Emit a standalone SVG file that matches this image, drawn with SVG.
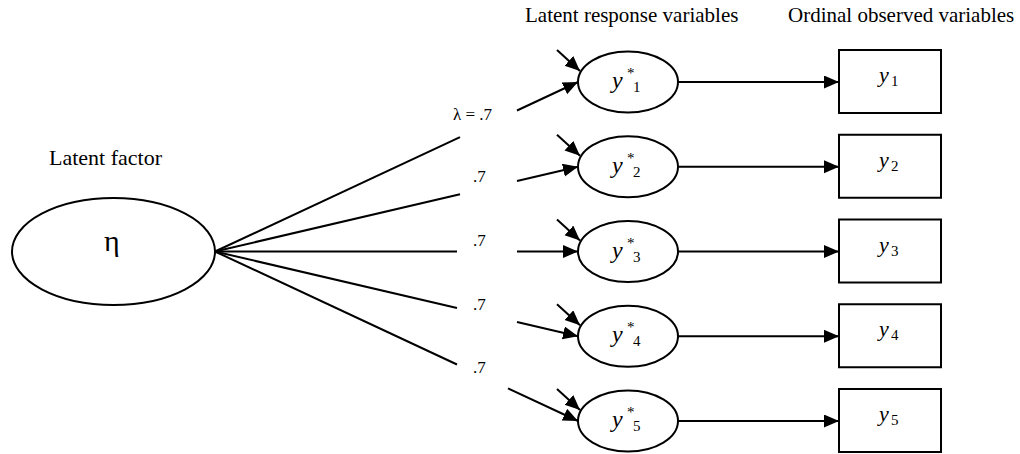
<svg xmlns="http://www.w3.org/2000/svg" width="1020" height="454" viewBox="0 0 1020 454" font-family="'Liberation Serif', 'Times New Roman', serif">
<style>
text{font-family:"Liberation Serif","Times New Roman",serif;fill:#000}
.h{font-size:21px}
.lbl{font-size:17px}
.sh{fill:#fff;stroke:#000;stroke-width:2}
.c{stroke:#000;stroke-width:2;fill:none}
.v{font-size:24px;font-style:italic}
.s{font-size:15px}
.rv{font-size:22px;font-style:italic}
.rs{font-size:15px}
</style>
<defs>
<marker id="ah" markerUnits="userSpaceOnUse" markerWidth="16" markerHeight="14" refX="15" refY="6.5" orient="auto">
<path d="M0,0 L15,6.5 L0,13 z" fill="#000"/>
</marker>
</defs>
<rect width="1020" height="454" fill="#fff"/>
<text class="h" x="525" y="22">Latent response variables</text>
<text class="h" x="788" y="22">Ordinal observed variables</text>
<text x="49" y="165" font-size="22">Latent factor</text>

<g id="connectors">
<line class="c" x1="215" y1="251.5" x2="460" y2="137.1"/>
<line class="c" x1="517" y1="110.5" x2="578" y2="82" marker-end="url(#ah)"/>
<line class="c" x1="215" y1="251.5" x2="460" y2="194.3"/>
<line class="c" x1="517" y1="181" x2="578" y2="166.75" marker-end="url(#ah)"/>
<line class="c" x1="215" y1="251.5" x2="457" y2="251.5"/>
<line class="c" x1="517" y1="251.5" x2="578" y2="251.5" marker-end="url(#ah)"/>
<line class="c" x1="215" y1="251.5" x2="457" y2="308"/>
<line class="c" x1="517" y1="322" x2="578" y2="336.25" marker-end="url(#ah)"/>
<line class="c" x1="215" y1="251.5" x2="457" y2="364.5"/>
<line class="c" x1="508" y1="388.3" x2="578" y2="421" marker-end="url(#ah)"/>
<line class="c" x1="557" y1="50" x2="580" y2="71" marker-end="url(#ah)"/>
<line class="c" x1="557" y1="134.75" x2="580" y2="155.75" marker-end="url(#ah)"/>
<line class="c" x1="557" y1="219.5" x2="580" y2="240.5" marker-end="url(#ah)"/>
<line class="c" x1="557" y1="304.25" x2="580" y2="325.25" marker-end="url(#ah)"/>
<line class="c" x1="557" y1="389" x2="580" y2="410" marker-end="url(#ah)"/>
<line class="c" x1="678" y1="82" x2="839" y2="82" marker-end="url(#ah)"/>
<line class="c" x1="678" y1="166.75" x2="839" y2="166.75" marker-end="url(#ah)"/>
<line class="c" x1="678" y1="251.5" x2="839" y2="251.5" marker-end="url(#ah)"/>
<line class="c" x1="678" y1="336.25" x2="839" y2="336.25" marker-end="url(#ah)"/>
<line class="c" x1="678" y1="421" x2="839" y2="421" marker-end="url(#ah)"/>
<text class="lbl" x="453" y="120">λ = .7</text>
<text class="lbl" x="473" y="182">.7</text>
<text class="lbl" x="473" y="246">.7</text>
<text class="lbl" x="473" y="310">.7</text>
<text class="lbl" x="473" y="373">.7</text>
</g>

<g id="eta">
<ellipse class="sh" cx="113.5" cy="251.5" rx="101.5" ry="53.5"/>
<text x="104" y="251" font-size="30">η</text>
</g>

<g id="ystar1">
<ellipse class="sh" cx="628" cy="82" rx="50" ry="30.5"/>
<text class="v" x="612" y="88">y</text><text class="s" x="627" y="78">*</text><text class="s" x="633" y="92">1</text>
</g>
<g id="ystar2">
<ellipse class="sh" cx="628" cy="166.75" rx="50" ry="30.5"/>
<text class="v" x="612" y="172.75">y</text><text class="s" x="627" y="162.75">*</text><text class="s" x="633" y="176.75">2</text>
</g>
<g id="ystar3">
<ellipse class="sh" cx="628" cy="251.5" rx="50" ry="30.5"/>
<text class="v" x="612" y="257.5">y</text><text class="s" x="627" y="247.5">*</text><text class="s" x="633" y="261.5">3</text>
</g>
<g id="ystar4">
<ellipse class="sh" cx="628" cy="336.25" rx="50" ry="30.5"/>
<text class="v" x="612" y="342.25">y</text><text class="s" x="627" y="332.25">*</text><text class="s" x="633" y="346.25">4</text>
</g>
<g id="ystar5">
<ellipse class="sh" cx="628" cy="421" rx="50" ry="30.5"/>
<text class="v" x="612" y="427">y</text><text class="s" x="627" y="417">*</text><text class="s" x="633" y="431">5</text>
</g>

<g id="y1">
<rect class="sh" x="839" y="50" width="102" height="63"/>
<text class="rv" x="879" y="82">y</text><text class="rs" x="891" y="86">1</text>
</g>
<g id="y2">
<rect class="sh" x="839" y="134.75" width="102" height="63"/>
<text class="rv" x="879" y="166.75">y</text><text class="rs" x="891" y="170.75">2</text>
</g>
<g id="y3">
<rect class="sh" x="839" y="219.5" width="102" height="63"/>
<text class="rv" x="879" y="251.5">y</text><text class="rs" x="891" y="255.5">3</text>
</g>
<g id="y4">
<rect class="sh" x="839" y="304.25" width="102" height="63"/>
<text class="rv" x="879" y="336.25">y</text><text class="rs" x="891" y="340.25">4</text>
</g>
<g id="y5">
<rect class="sh" x="839" y="389" width="102" height="63"/>
<text class="rv" x="879" y="421">y</text><text class="rs" x="891" y="425">5</text>
</g>
</svg>
